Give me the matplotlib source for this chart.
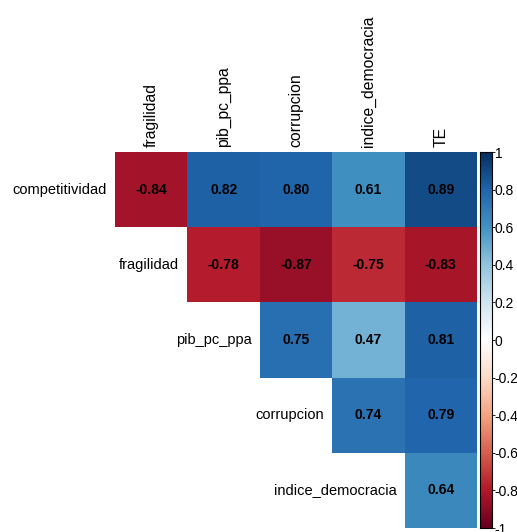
import numpy as np
import matplotlib
matplotlib.use("Agg")
import matplotlib.pyplot as plt
from matplotlib.colors import LinearSegmentedColormap

plt.rcParams['font.family'] = ['Liberation Sans', 'DejaVu Sans']

row_vars = ["competitividad", "fragilidad", "pib_pc_ppa", "corrupcion", "indice_democracia"]
col_vars = ["fragilidad", "pib_pc_ppa", "corrupcion", "indice_democracia", "TE"]

# upper triangle of the correlation matrix, row by row
r_comp = [-0.84, 0.82, 0.80, 0.61, 0.89]
r_frag = [-0.78, -0.87, -0.75, -0.83]
r_pib = [0.75, 0.47, 0.81]
r_corr = [0.74, 0.79]
r_dem = [0.64]
rows = [r_comp, r_frag, r_pib, r_corr, r_dem]

cb_ticks = [1, 0.8, 0.6, 0.4, 0.2, 0, -0.2, -0.4, -0.6, -0.8, -1]

n = len(row_vars)
mat = np.full((n, n), np.nan)
for i, r in enumerate(rows):
    mat[i, i:] = r

# corrplot's RdBu palette
cols = ["#67001F", "#B2182B", "#D6604D", "#F4A582", "#FDDBC7", "#FFFFFF",
        "#D1E5F0", "#92C5DE", "#4393C3", "#2166AC", "#053061"]
cmap = LinearSegmentedColormap.from_list("rdbu2", cols, N=200)

W, H = 517, 532
fig = plt.figure(figsize=(W / 100, H / 100), dpi=100)
x0, x1, y0, y1 = 115, 477, 152, 528
ax = fig.add_axes([x0 / W, 1 - y1 / H, (x1 - x0) / W, (y1 - y0) / H])

m = np.ma.masked_invalid(mat)
ax.pcolormesh(np.arange(n + 1), np.arange(n + 1), m, cmap=cmap, vmin=-1, vmax=1)
ax.set_xlim(0, n)
ax.set_ylim(n, 0)
ax.axis("off")

for i in range(n):
    for j in range(i, n):
        ax.text(j + 0.5, i + 0.5, f"{mat[i, j]:.2f}", ha="center", va="center",
                fontsize=10, fontweight="bold", color="black")
    # row label to the left of the first cell in the row
    ax.text(i - 0.11, i + 0.5, row_vars[i], ha="right", va="center", fontsize=10.5)

for j in range(n):
    ax.text(j + 0.5, -0.07, col_vars[j], ha="center", va="bottom", rotation=90,
            fontsize=11.3)

# colour legend
cax = fig.add_axes([480 / W, 1 - y1 / H, 12 / W, (y1 - y0) / H])
grad = np.linspace(-1, 1, 200).reshape(-1, 1)
cax.imshow(grad, cmap=cmap, aspect="auto", origin="lower", extent=[0, 1, -1, 1])
cax.set_xticks([])
cax.yaxis.tick_right()
cax.set_yticks(cb_ticks)
cax.set_yticklabels([f"{t:g}" for t in cb_ticks], fontsize=10)
cax.tick_params(axis="y", length=2, pad=0, width=0.6)
for s in cax.spines.values():
    s.set_linewidth(0.8)

fig.savefig("out.png", dpi=100)
